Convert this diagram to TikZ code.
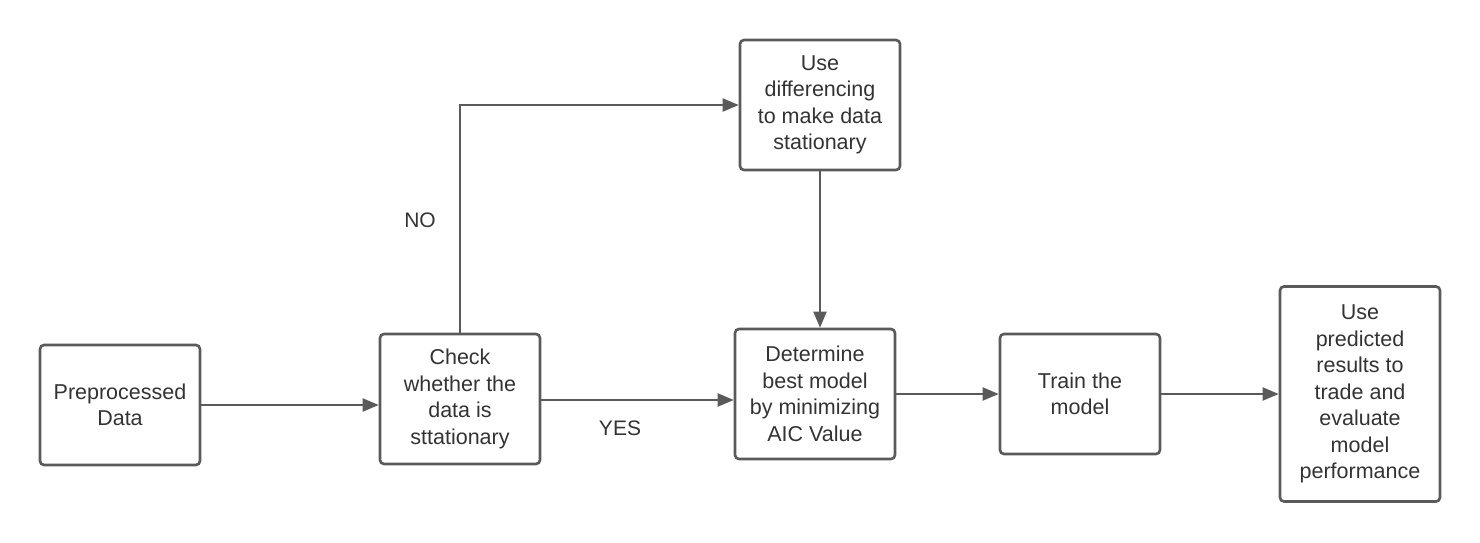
\documentclass[tikz,border=0pt]{standalone}
\usepackage{fontspec}
\setmainfont{Liberation Sans}
\usetikzlibrary{arrows.meta}
\definecolor{lineGray}{HTML}{5A5A5A}
\definecolor{textGray}{HTML}{333333}
\tikzstyle{stepBox}=[shape = rectangle, rounded corners = 4pt, draw = lineGray, line width = 2.6pt, minimum width = 160pt, align = center, inner sep = 0pt, text = textGray, font = \fontsize{21.5}{26.5}\selectfont]
\tikzstyle{flowArrow}=[draw = lineGray, line width = 2pt, -{Triangle[length = 16pt, width = 13pt]}]
\tikzstyle{answerLabel}=[text = textGray, font = \fontsize{21}{26.5}\selectfont]

\begin{document}
\begin{tikzpicture}[x = 1pt, y = -1pt]
\useasboundingbox (0,0) rectangle (1480,543);
\node[stepBox, minimum height = 120pt] (pre) at (120,405) {Preprocessed\\Data};
\node[stepBox, minimum height = 130pt] (chk) at (460,399) {Check\\whether the\\data is\\sttationary};
\node[stepBox, minimum height = 130pt] (diff) at (820,105) {Use\\differencing\\to make data\\stationary};
\node[stepBox, minimum height = 130pt] (det) at (815,394) {Determine\\best model\\by minimizing\\AIC Value};
\node[stepBox, minimum height = 120pt] (train) at (1080,394) {Train the\\model};
\node[stepBox, minimum height = 215pt] (use) at (1360,394) {Use\\predicted\\results to\\trade and\\evaluate\\model\\performance};
\node[answerLabel] (no) at (420,220) {NO};
\node[answerLabel] (yes) at (620,428) {YES};
\draw[flowArrow] (pre) -- (pre -| chk.west);
\draw[flowArrow] (chk.east |- 0,400) -- (det.west |- 0,400);
\draw[flowArrow] (chk.north) |- (diff.west);
\draw[flowArrow] (diff.south) -- (diff.south |- det.north);
\draw[flowArrow] (det) -- (train);
\draw[flowArrow] (train) -- (use);
\end{tikzpicture}
\end{document}
